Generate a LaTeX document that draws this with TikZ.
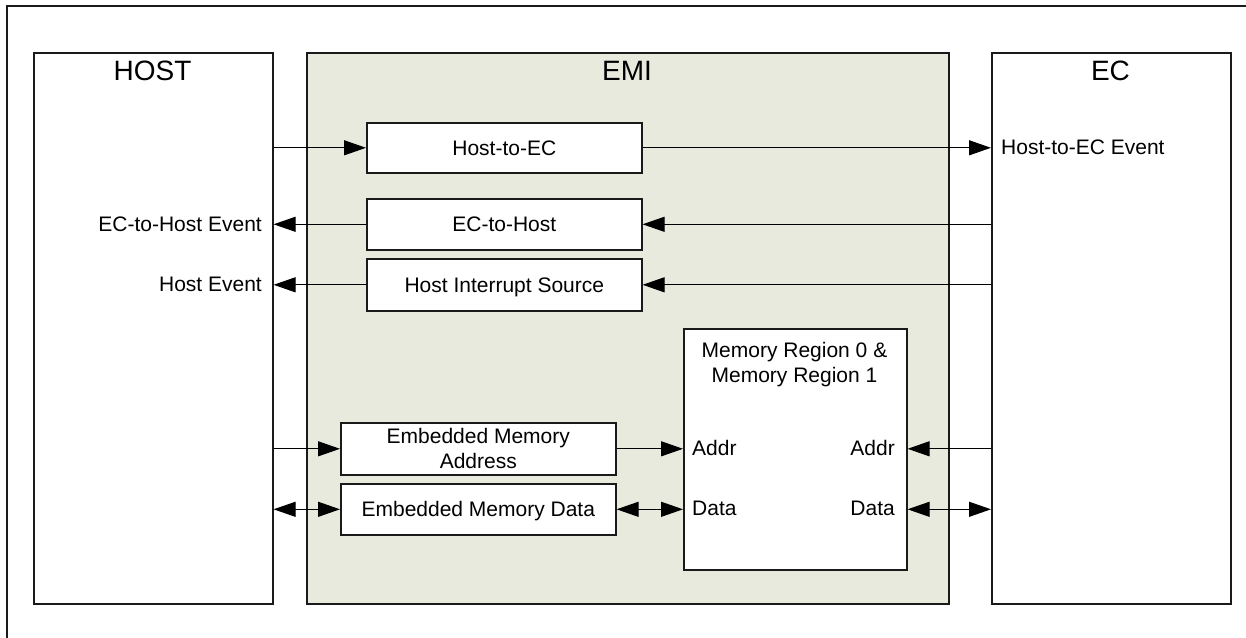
\documentclass[tikz,border=0pt]{standalone}
\usepackage{fontspec}
\setmainfont{Liberation Sans}
\usetikzlibrary{arrows.meta}
\definecolor{emifill}{RGB}{233,234,222}
\definecolor{edge}{RGB}{26,26,26}
\begin{document}
\begin{tikzpicture}[x=1pt,y=-1pt,
  blk/.style={draw=edge,line width=1.6pt,fill=white,inner sep=0pt,anchor=north west},
  lbl/.style={inner sep=0pt,text depth=0pt,font=\fontsize{21}{25}\selectfont},
  ttl/.style={inner sep=0pt,anchor=base,font=\fontsize{28}{32}\selectfont},
  arr/.style={line width=1.2pt,-{Triangle[length=22pt,width=15pt]}},
  darr/.style={line width=1.2pt,{Triangle[length=22pt,width=15pt]}-{Triangle[length=22pt,width=15pt]}}]
\clip (0,0) rectangle (1246,637);
\draw[line width=2pt,draw=edge] (7,6) rectangle (1270,660);
% big blocks
\node[blk,minimum width=239pt,minimum height=551pt] (host) at (33,52) {};
\node[blk,fill=emifill,minimum width=642pt,minimum height=551pt] (emi) at (306,52) {};
\node[blk,minimum width=239pt,minimum height=551pt] (ec) at (991,52) {};
\node[ttl] (hostt) at (152.5,80) {HOST};
\node[ttl] (emit) at (627,80) {EMI};
\node[ttl] (ect) at (1110.5,80) {EC};
% inner blocks
\node[blk,minimum width=275pt,minimum height=50pt] (h2e) at (366,122) {};
\node[lbl] (h2et) at (h2e.center) {Host-to-EC};
\node[blk,minimum width=275pt,minimum height=51pt] (e2h) at (366,198) {};
\node[lbl] (e2ht) at (e2h.center) {EC-to-Host};
\node[blk,minimum width=275pt,minimum height=52pt] (his) at (366,258) {};
\node[lbl] (hist) at (his.center) {Host Interrupt Source};
\node[blk,minimum width=275pt,minimum height=52pt] (ema) at (340,422) {};
\node[lbl,align=center] (emat) at (ema.center) {Embedded Memory\\Address};
\node[blk,minimum width=275pt,minimum height=51pt] (emd) at (340,483) {};
\node[lbl] (emdt) at (emd.center) {Embedded Memory Data};
\node[blk,minimum width=223pt,minimum height=241pt] (mem) at (683,328) {};
\node[lbl,align=center,anchor=north] (memt) at (794.5,342) {Memory Region 0 \&\\Memory Region 1};
\node[lbl,anchor=west] (aL) at (692,448) {Addr};
\node[lbl,anchor=west] (dL) at (692,508) {Data};
\node[lbl,anchor=east] (aR) at (895,448) {Addr};
\node[lbl,anchor=east] (dR) at (895,508) {Data};
% outer labels
\node[lbl,anchor=east] (e2hev) at (262,224) {EC-to-Host Event};
\node[lbl,anchor=east] (hev) at (262,284) {Host Event};
\node[lbl,anchor=west] (h2eev) at (1001,147) {Host-to-EC Event};
% connectors
\draw[arr] (host.east |- h2e.west) -- (h2e.west);
\draw[arr] (h2e.east) -- (ec.west |- h2e.east);
\draw[arr] (ec.west |- e2h.east) -- (e2h.east);
\draw[arr] (e2h.west) -- (host.east |- e2h.west);
\draw[arr] (ec.west |- his.east) -- (his.east);
\draw[arr] (his.west) -- (host.east |- his.west);
\draw[arr] (host.east |- ema.west) -- (ema.west);
\draw[arr] (ema.east) -- (mem.west |- ema.east);
\draw[arr] (ec.west |- ema.east) -- (mem.east |- ema.east);
\draw[darr] (host.east |- emd.west) -- (emd.west);
\draw[darr] (emd.east) -- (mem.west |- emd.east);
\draw[darr] (mem.east |- emd.east) -- (ec.west |- emd.east);
\end{tikzpicture}
\end{document}
